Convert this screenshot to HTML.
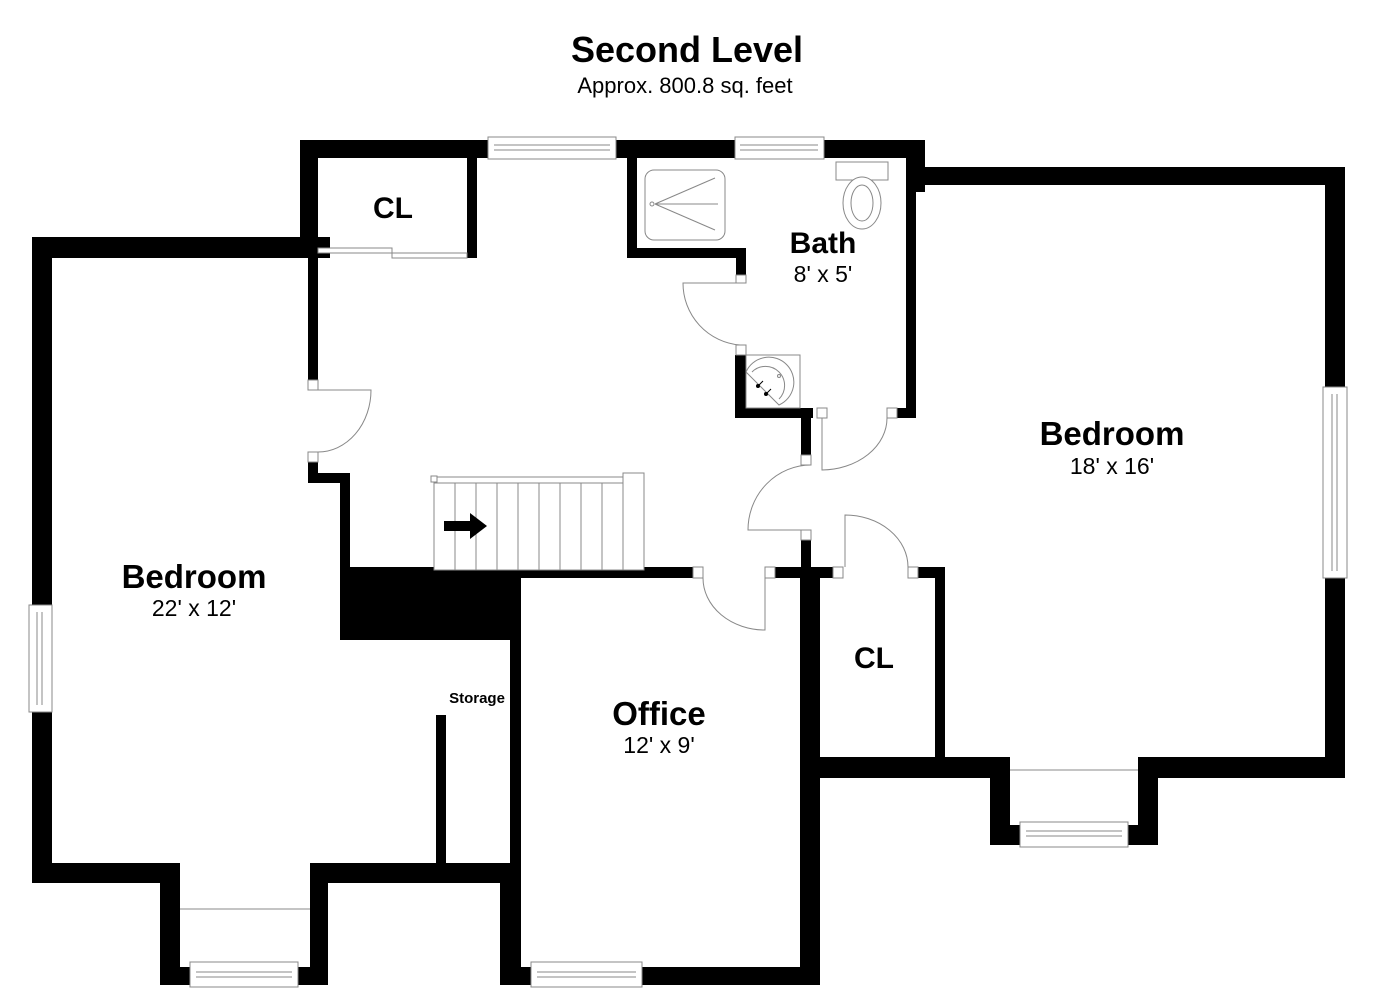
<!DOCTYPE html>
<html><head><meta charset="utf-8"><style>
html,body{margin:0;padding:0;background:#fff;}
svg{display:block;}
text{font-family:"Liberation Sans",Arial,sans-serif;}
</style></head><body>
<svg width="1375" height="1000" viewBox="0 0 1375 1000" xmlns="http://www.w3.org/2000/svg">
<rect width="1375" height="1000" fill="#fff"/>
<text x="687" y="62" text-anchor="middle" font-size="36" font-weight="bold">Second Level</text>
<text x="685" y="93" text-anchor="middle" font-size="22">Approx. 800.8 sq. feet</text>

<g fill="#000">
<rect x="32" y="237" width="20" height="630"/>
<rect x="32" y="237" width="298" height="21"/>
<rect x="32" y="863" width="148" height="20"/>
<rect x="160" y="863" width="20" height="122"/>
<rect x="160" y="967" width="168" height="18"/>
<rect x="310" y="863" width="18" height="122"/>
<rect x="310" y="863" width="210" height="20"/>
<rect x="436" y="715" width="10" height="150"/>
<rect x="510" y="578" width="11" height="290"/>
<rect x="500" y="863" width="21" height="122"/>
<rect x="500" y="967" width="320" height="18"/>
<rect x="800" y="567" width="20" height="418"/>
<rect x="340" y="567" width="180" height="73"/>
<rect x="340" y="567" width="353" height="11"/>
<rect x="308" y="237" width="10" height="143"/>
<rect x="308" y="462" width="10" height="21"/>
<rect x="308" y="473" width="42" height="10"/>
<rect x="340" y="473" width="10" height="100"/>
<rect x="300" y="140" width="18" height="118"/>
<rect x="300" y="140" width="188" height="18"/>
<rect x="467" y="140" width="10" height="118"/>
<rect x="616" y="140" width="119" height="18"/>
<rect x="824" y="140" width="101" height="18"/>
<rect x="627" y="140" width="10" height="118"/>
<rect x="627" y="248" width="119" height="10"/>
<rect x="736" y="248" width="10" height="27"/>
<rect x="735" y="355" width="11" height="63"/>
<rect x="735" y="408" width="78" height="10"/>
<rect x="801" y="408" width="10" height="47"/>
<rect x="906" y="140" width="19" height="52"/>
<rect x="906" y="140" width="10" height="278"/>
<rect x="897" y="408" width="19" height="10"/>
<rect x="775" y="567" width="58" height="11"/>
<rect x="801" y="540" width="10" height="40"/>
<rect x="918" y="567" width="27" height="11"/>
<rect x="935" y="567" width="10" height="193"/>
<rect x="906" y="167" width="439" height="18"/>
<rect x="1325" y="167" width="20" height="611"/>
<rect x="808" y="757" width="202" height="21"/>
<rect x="990" y="757" width="20" height="88"/>
<rect x="990" y="825" width="168" height="20"/>
<rect x="1138" y="757" width="20" height="88"/>
<rect x="1138" y="757" width="207" height="21"/>
</g>

<g fill="#fff" stroke="#888" stroke-width="1">
<rect x="488" y="137" width="128" height="22"/>
<line x1="494" y1="145" x2="610" y2="145"/><line x1="494" y1="150" x2="610" y2="150"/>
<rect x="735" y="137" width="89" height="22"/>
<line x1="740" y1="145" x2="818" y2="145"/><line x1="740" y1="150" x2="818" y2="150"/>
<rect x="29" y="605" width="23" height="107"/>
<line x1="37" y1="612" x2="37" y2="705"/><line x1="42" y1="612" x2="42" y2="705"/>
<rect x="1323" y="387" width="24" height="191"/>
<line x1="1332" y1="394" x2="1332" y2="571"/><line x1="1337" y1="394" x2="1337" y2="571"/>
<rect x="190" y="962" width="108" height="25"/>
<line x1="196" y1="972" x2="292" y2="972"/><line x1="196" y1="977" x2="292" y2="977"/>
<rect x="531" y="962" width="111" height="25"/>
<line x1="537" y1="972" x2="636" y2="972"/><line x1="537" y1="977" x2="636" y2="977"/>
<rect x="1020" y="822" width="108" height="25"/>
<line x1="1026" y1="831" x2="1122" y2="831"/><line x1="1026" y1="836" x2="1122" y2="836"/>
<line x1="180" y1="909" x2="310" y2="909"/>
<line x1="1010" y1="770" x2="1138" y2="770"/>
<rect x="318" y="248" width="74" height="5"/>
<rect x="392" y="253" width="75" height="5"/>
<rect x="434" y="477" width="189" height="93"/>
<rect x="623" y="473" width="21" height="97"/>
<line x1="434" y1="483" x2="623" y2="483"/>
<rect x="431" y="476" width="6" height="6"/>
<line x1="455" y1="483" x2="455" y2="570"/><line x1="476" y1="483" x2="476" y2="570"/>
<line x1="497" y1="483" x2="497" y2="570"/><line x1="518" y1="483" x2="518" y2="570"/>
<line x1="539" y1="483" x2="539" y2="570"/><line x1="560" y1="483" x2="560" y2="570"/>
<line x1="581" y1="483" x2="581" y2="570"/><line x1="602" y1="483" x2="602" y2="570"/>
<rect x="308" y="380" width="10" height="10"/><rect x="308" y="452" width="10" height="10"/>
<rect x="736" y="275" width="10" height="8"/><rect x="736" y="345" width="10" height="10"/>
<rect x="801" y="455" width="10" height="10"/><rect x="801" y="530" width="10" height="10"/>
<rect x="817" y="408" width="10" height="10"/><rect x="887" y="408" width="10" height="10"/>
<rect x="693" y="567" width="10" height="11"/><rect x="765" y="567" width="10" height="11"/>
<rect x="833" y="567" width="10" height="11"/><rect x="908" y="567" width="10" height="11"/>
<rect x="645" y="170" width="80" height="70" rx="9"/>
<line x1="655" y1="204" x2="715" y2="178"/><line x1="655" y1="204" x2="718" y2="204"/><line x1="655" y1="204" x2="715" y2="230"/>
<circle cx="652" cy="204" r="2"/>
<rect x="836" y="162" width="52" height="18"/>
<ellipse cx="862" cy="203" rx="19" ry="26"/><ellipse cx="862" cy="203" rx="11" ry="18"/>
<rect x="746" y="355" width="54" height="53"/>
<path d="M746,372 A25,25 0 1,1 779,405 Z"/>
<path d="M752,372 A19,19 0 1,1 779,399" fill="none"/>
<circle cx="779" cy="376" r="1.5"/>
</g>
<g fill="none" stroke="#888" stroke-width="1">
<path d="M318,390 L371,390 A53,62 0 0,1 318,452"/>
<path d="M746,283 L683,283 A62,62 0 0,0 740,345"/>
<path d="M822,418 L822,470 A66,52 0 0,0 887,418"/>
<path d="M811,465 A63,65 0 0,0 748,530 L801,530"/>
<path d="M845,567 L845,515 A63,52 0 0,1 908,567"/>
<path d="M765,578 L765,630 A62,52 0 0,1 703,578"/>
</g>
<g fill="#000">
<circle cx="758" cy="386" r="2"/><circle cx="766" cy="394" r="2"/>
<line x1="758" y1="386" x2="763" y2="381" stroke="#000" stroke-width="1"/>
<line x1="766" y1="394" x2="771" y2="389" stroke="#000" stroke-width="1"/>
<path d="M444,521 L470,521 L470,513 L487,526 L470,539 L470,531 L444,531 Z"/>
</g>

<g text-anchor="middle">
<text x="393" y="218" font-size="30" font-weight="bold">CL</text>
<text x="823" y="253" font-size="30" font-weight="bold">Bath</text>
<text x="823" y="282" font-size="23">8' x 5'</text>
<text x="1112" y="445" font-size="33" font-weight="bold">Bedroom</text>
<text x="1112" y="474" font-size="23">18' x 16'</text>
<text x="194" y="588" font-size="33" font-weight="bold">Bedroom</text>
<text x="194" y="616" font-size="23">22' x 12'</text>
<text x="659" y="725" font-size="33" font-weight="bold">Office</text>
<text x="659" y="753" font-size="23">12' x 9'</text>
<text x="874" y="668" font-size="30" font-weight="bold">CL</text>
<text x="477" y="703" font-size="15" font-weight="bold">Storage</text>
</g>
</svg>
</body></html>
